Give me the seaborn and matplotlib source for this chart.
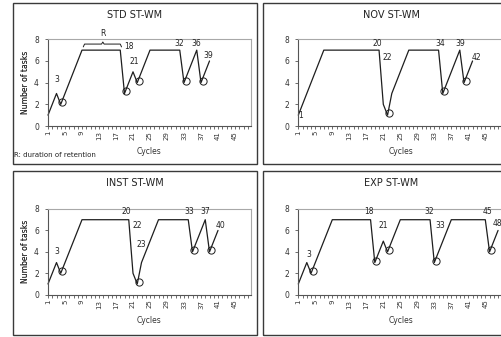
import matplotlib
matplotlib.use("Agg")
import matplotlib.pyplot as plt
import matplotlib.transforms as mtransforms
from matplotlib.patches import Rectangle
import seaborn as sns

# figure size in pixels
W, H = 501, 337

# --- data ----------------------------------------------------------------
std_cycles = list(range(1, 40))
std_tasks = [1, 2, 3, 2, 3, 4, 5, 6, 7,
             7, 7, 7, 7, 7, 7, 7, 7, 7,
             3, 4, 5, 4, 5, 6, 7,
             7, 7, 7, 7, 7, 7, 7,
             4, 5, 6, 7, 4, 5, 6]
std_circles = [4, 19, 22, 33, 37]
std_labels = [("3", 3.0, 4.25), ("18", 20.1, 7.3), ("21", 21.2, 5.95),
              ("32", 31.9, 7.65), ("36", 36.0, 7.65), ("39", 38.6, 6.55)]

nov_cycles = list(range(1, 43))
nov_tasks = [1, 2, 3, 4, 5, 6, 7,
             7, 7, 7, 7, 7, 7, 7, 7, 7, 7, 7, 7, 7,
             2, 1,
             3, 4, 5, 6, 7,
             7, 7, 7, 7, 7, 7, 7,
             3, 4, 5, 6, 7,
             4, 5, 6]
nov_circles = [22, 35, 40]
nov_labels = [("1", 1.6, 1.0), ("20", 19.7, 7.6), ("22", 21.9, 6.3),
              ("34", 34.5, 7.6), ("39", 39.2, 7.6), ("42", 42.8, 6.3)]

inst_cycles = list(range(1, 42))
inst_tasks = [1, 2, 3, 2, 3, 4, 5, 6, 7,
              7, 7, 7, 7, 7, 7, 7, 7, 7, 7, 7,
              2, 1,
              3, 4, 5, 6, 7,
              7, 7, 7, 7, 7, 7, 7,
              4, 5, 6, 7,
              4, 5, 6]
inst_circles = [4, 22, 35, 39]
inst_labels = [("3", 3.0, 4.05), ("20", 19.5, 7.8), ("22", 21.9, 6.5),
               ("23", 23.0, 4.7), ("33", 34.2, 7.8), ("37", 37.9, 7.8),
               ("40", 41.5, 6.5)]

exp_cycles = list(range(1, 49))
exp_tasks = [1, 2, 3, 2, 3, 4, 5, 6, 7,
             7, 7, 7, 7, 7, 7, 7, 7, 7,
             3, 4, 5, 4, 5, 6, 7,
             7, 7, 7, 7, 7, 7, 7,
             3, 4, 5, 6, 7,
             7, 7, 7, 7, 7, 7, 7, 7,
             4, 5, 6]
exp_circles = [4, 19, 22, 33, 46]
exp_labels = [("3", 3.4, 3.75), ("18", 17.7, 7.8), ("21", 21.0, 6.5),
              ("32", 31.8, 7.8), ("33", 34.3, 6.5), ("45", 45.5, 7.8),
              ("48", 47.75, 6.6)]

titles = ["STD ST-WM", "NOV ST-WM", "INST ST-WM", "EXP ST-WM"]
x_labels = [1, 5, 9, 13, 17, 21, 25, 29, 33, 37, 41, 45]
y_ticks = [0, 2, 4, 6, 8]

LINE = "#1e1e1e"
AXIS = "#555555"
BORDER = "#a8a8a8"
PX_PER_CYCLE = 4.25

sns.set_style("white")
plt.rcParams["font.family"] = ["DejaVu Sans"]

fig = plt.figure(figsize=(W / 100, H / 100), dpi=100)
fig.patch.set_facecolor("white")


def fig_box(x0, y0, x1, y1):
    return [x0 / W, 1 - y1 / H, (x1 - x0) / W, (y1 - y0) / H]


def draw_panel(frame, plot, title, cycles, tasks, circles, labels):
    fx0, fy0, fx1, fy1 = frame
    fig.add_artist(Rectangle((fx0 / W, 1 - fy1 / H), (fx1 - fx0) / W, (fy1 - fy0) / H,
                             transform=fig.transFigure, fill=False,
                             edgecolor="#3a3a3a", linewidth=1.0))
    fig.text((fx0 + fx1) / 2 / W, 1 - (fy0 + 12.5) / H, title,
             ha="center", va="center", fontsize=7, color="#222222")

    px0, py0, px1, py1 = plot
    ax = fig.add_axes(fig_box(px0, py0, px1, py1))
    ax.set_facecolor("white")

    sns.lineplot(x=cycles, y=tasks, ax=ax, color=LINE, linewidth=0.9,
                 clip_on=False)

    circle_y = [tasks[cycles.index(c)] for c in circles]
    shift = mtransforms.ScaledTranslation(1.5 / 100, 2.0 / 100, fig.dpi_scale_trans)
    ax.plot(circles, circle_y, linestyle="none", marker="o", markersize=5.2,
            markerfacecolor="none", markeredgecolor=LINE, markeredgewidth=0.7,
            transform=ax.transData + shift, clip_on=False)

    for txt, lx, ly in labels:
        ax.text(lx, ly, txt, ha="center", va="center", fontsize=5.5,
                color="#222222", clip_on=False)

    ax.set_xlim(1, 1 + (px1 - px0) / PX_PER_CYCLE)
    ax.set_ylim(0, 8)
    ax.set_xticks(range(1, 49))
    ax.set_xticklabels([str(c) if c in x_labels else "" for c in range(1, 49)],
                       rotation=90)
    ax.set_yticks(y_ticks)
    ax.tick_params(axis="x", direction="out", length=2, width=0.6, pad=1.5,
                   labelsize=5, colors=AXIS, labelcolor="#333333", bottom=True)
    ax.tick_params(axis="y", direction="out", length=2.5, width=0.6, pad=4,
                   labelsize=5.5, colors=AXIS, labelcolor="#333333", left=True)

    for side in ["left", "bottom"]:
        ax.spines[side].set_color(AXIS)
        ax.spines[side].set_linewidth(0.8)
    for side in ["top", "right"]:
        ax.spines[side].set_color(BORDER)
        ax.spines[side].set_linewidth(0.8)

    ax.set_ylabel("Number of tasks", fontsize=5.5, color="#333333")
    ax.yaxis.set_label_coords(-(px0 - 30) / (px1 - px0), 0.5)
    ax.set_xlabel("Cycles", fontsize=5.5, color="#333333")
    ax.xaxis.set_label_coords(0.5, -21 / (py1 - py0))
    return ax


ax_std = draw_panel((12.7, 3, 256.7, 164), (48, 39.3, 250.7, 126),
                    titles[0], std_cycles, std_tasks, std_circles, std_labels)
ax_nov = draw_panel((263, 3, 520, 164), (298.3, 39.3, 503, 126),
                    titles[1], nov_cycles, nov_tasks, nov_circles, nov_labels)
ax_inst = draw_panel((12.7, 171, 256.7, 335), (48, 209, 250.7, 294.7),
                     titles[2], inst_cycles, inst_tasks, inst_circles, inst_labels)
ax_exp = draw_panel((263, 171, 520, 335), (298.3, 209, 503, 294.7),
                    titles[3], exp_cycles, exp_tasks, exp_circles, exp_labels)

# retention bracket over the first plateau of the STD panel
brace_x = [9.3, 9.6, 13.6, 13.9, 14.2, 18.0, 18.3]
brace_y = [7.3, 7.56, 7.56, 7.75, 7.56, 7.56, 7.3]
ax_std.plot(brace_x, brace_y, color=LINE, linewidth=0.7, clip_on=False)
ax_std.text(13.9, 8.5, "R", ha="center", va="center", fontsize=5.5,
            color="#222222", clip_on=False)
fig.text(14 / W, 1 - 155 / H, "R: duration of retention", ha="left",
         va="center", fontsize=5, color="#222222")

fig.savefig("out.png", dpi=100)
plt.close(fig)
